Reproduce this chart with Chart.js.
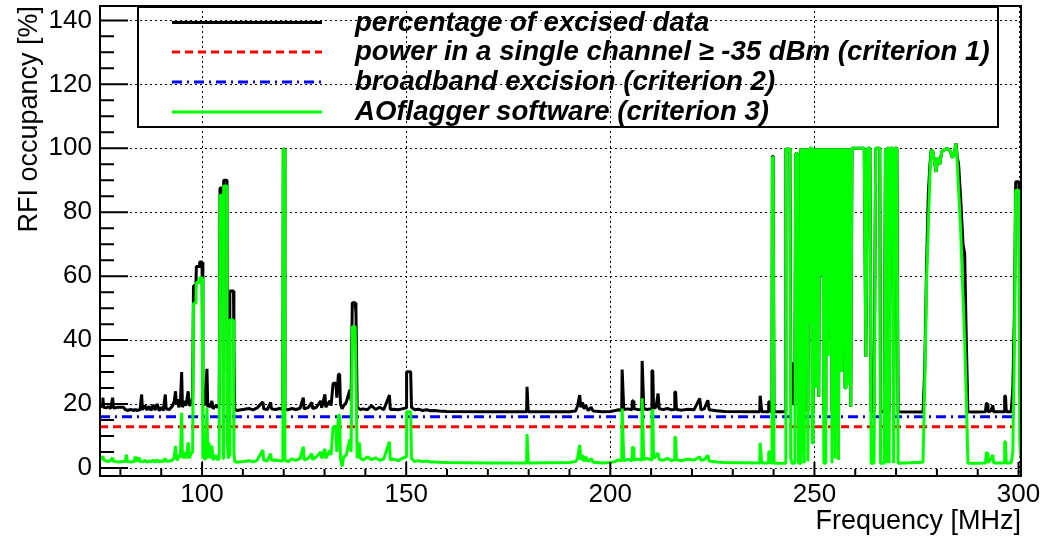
<!DOCTYPE html>
<html>
<head>
<meta charset="utf-8">
<script src="https://cdn.jsdelivr.net/npm/chart.js@4.4.1/dist/chart.umd.min.js"></script>
<style>
  html, body { margin: 0; padding: 0; background: #fff; overflow: hidden; }
  canvas { display: block; }
</style>
</head>
<body>
<canvas id="c" width="1041" height="540"></canvas>
<script>
// ---------------- data ----------------
const freq = [
  75.0, 75.5, 75.7, 75.9, 76.5, 77.0, 77.6, 78.1, 78.3, 79.5,
  80.8, 81.2, 81.5, 81.7, 82.5, 83.4, 83.6, 83.8, 84.6, 84.8,
  85.2, 85.4, 86.0, 86.5, 87.0, 87.5, 88.0, 88.5, 89.0, 89.5, 90.0, 90.5, 91.0, 91.2, 92.0,
  92.8, 93.2, 93.5, 93.7, 94.0, 94.3, 94.7, 95.0, 95.2, 95.6,
  96.0, 96.3, 96.6, 96.9, 97.3, 97.7, 97.9, 98.5, 98.6, 99.3,
  99.4, 100.0, 100.2, 100.5, 100.8, 101.2, 101.4, 101.7, 102.0, 102.4,
  102.7, 103.3, 103.8, 104.2, 104.4, 105.1, 105.2, 105.3, 106.1, 106.2,
  106.4, 106.7, 106.8, 107.7, 107.8, 108.0, 108.5, 110.0, 111.5, 112.5,
  113.5, 114.9, 115.1, 116.0, 116.8, 117.0, 118.0, 119.0, 119.8, 119.9,
  120.2, 120.3, 121.0, 122.0, 123.0, 124.0, 124.8, 125.0, 126.0, 126.9,
  127.1, 128.0, 129.1, 129.3, 130.1, 130.3, 131.3, 131.6, 132.1, 132.8,
  133.0, 133.4, 133.7, 133.9, 134.3, 134.7, 135.3, 136.2, 136.5, 136.8,
  137.5, 137.7, 138.0, 138.5, 138.8, 139.5, 140.5, 141.5, 142.5, 143.5,
  144.5, 145.9, 146.1, 147.0, 148.0, 149.0, 150.0, 150.1, 151.1, 151.3,
  152.1, 153.0, 154.0, 155.0, 156.0, 157.0, 158.0, 160.0, 170.0, 179.5,
  179.6, 179.8, 179.9, 190.0, 191.5, 192.0, 192.5, 192.8, 193.2, 193.6,
  194.0, 194.6, 195.3, 195.8, 198.0, 200.0, 201.0, 202.0, 202.8, 202.9,
  203.1, 203.3, 204.3, 205.3, 205.4, 205.6, 205.8, 206.8, 207.7, 207.8,
  208.0, 208.2, 209.0, 210.1, 210.2, 210.4, 210.6, 211.2, 211.7, 212.0,
  213.0, 214.0, 215.0, 215.7, 215.8, 216.0, 216.2, 217.5, 219.0, 220.5,
  221.9, 222.2, 223.0, 223.9, 224.2, 226.0, 228.0, 236.6, 236.7, 236.9,
  237.1, 238.7, 238.8, 239.0, 239.3, 239.6, 239.7, 239.9, 240.1, 242.8,
  243.0, 243.6, 244.0, 244.2, 244.5, 244.8, 245.2, 245.4, 245.9, 246.1,
  246.5, 246.7, 247.0, 247.2, 247.5, 247.8, 248.0, 248.2, 248.4, 248.6,
  248.8, 249.0, 249.3, 249.5, 249.7, 249.9, 250.1, 250.3, 250.5, 250.7,
  250.9, 251.0, 251.1, 251.3, 251.5, 251.7, 251.9, 252.1, 252.3, 252.6,
  252.8, 253.0, 253.2, 253.4, 253.6, 253.8, 254.0, 254.3, 254.5, 254.7,
  254.9, 255.1, 255.3, 255.5, 255.7, 255.9, 256.1, 256.3, 256.5, 256.7,
  256.9, 257.1, 257.3, 257.5, 257.7, 257.9, 258.1, 258.3, 258.5, 258.7,
  258.9, 259.2, 262.2, 262.6, 263.0, 263.6, 263.9, 264.6, 265.0, 266.0,
  266.2, 267.1, 267.4, 267.7, 267.9, 268.1, 268.3, 268.6, 269.2, 269.4,
  269.7, 270.2, 270.5,
  276.6, 277.0, 277.5, 277.9, 278.3, 278.6, 279.0, 279.4, 279.8, 280.2,
  280.7, 281.2, 281.8, 282.5, 283.3, 283.8, 284.3, 284.7, 285.0, 285.3,
  285.8, 286.4, 286.8, 287.2, 287.6, 289.0, 291.9, 292.1, 292.3, 292.5,
  293.2, 293.7, 293.9, 295.5, 296.5, 296.6, 296.8, 297.0, 298.2, 298.6,
  299.0, 299.3, 300.1, 300.3, 300.6
];
const excised = [
  19.0, 19.5, 22.0, 19.0, 18.8, 19.2, 18.6, 22.0, 18.8, 19.0,
  19.0, 18.2, 18.2, 18.0, 18.3, 18.0, 18.4, 18.0, 18.2, 18.0,
  23.0, 18.2, 19.6, 18.1, 19.3, 18.0, 19.8, 18.1, 20.0, 17.9, 19.0, 18.0, 23.0, 18.5, 18.3,
  19.5, 21.0, 24.0, 20.0, 21.5, 19.0, 20.5, 30.0, 19.0, 21.0,
  19.5, 21.5, 24.0, 19.5, 20.0, 22.0, 57.0, 57.0, 63.0, 63.0,
  64.4, 64.4, 20.0, 19.5, 21.0, 31.0, 19.0, 20.0, 19.0, 21.0,
  18.5, 19.5, 19.0, 20.0, 87.6, 87.6, 20.0, 90.0, 90.0, 30.6,
  19.0, 20.0, 55.4, 55.4, 39.0, 18.5, 18.0, 18.3, 18.6, 18.2,
  18.8, 20.7, 18.5, 18.3, 20.5, 18.5, 18.3, 18.6, 18.4, 99.8,
  99.8, 18.5, 18.2, 18.6, 18.3, 18.7, 22.0, 18.5, 18.9, 20.5,
  18.6, 19.0, 21.0, 18.8, 23.0, 19.0, 21.0, 19.5, 26.5, 26.5,
  22.0, 29.3, 29.3, 20.0, 18.5, 19.5, 20.5, 24.4, 21.0, 51.7,
  51.7, 48.4, 19.0, 18.5, 18.3, 18.5, 18.2, 19.5, 18.3, 19.0,
  18.2, 22.8, 18.3, 18.4, 18.2, 18.5, 18.8, 30.1, 30.1, 19.0,
  18.2, 18.4, 18.0, 18.2, 17.9, 18.0, 17.8, 17.7, 17.6, 17.6,
  25.4, 25.4, 17.6, 17.6, 17.8, 19.5, 22.8, 19.0, 20.5, 18.5,
  19.5, 18.0, 19.0, 17.8, 17.6, 17.7, 17.9, 18.2, 18.0, 30.8,
  30.8, 18.3, 18.5, 18.2, 21.0, 21.0, 18.5, 18.3, 18.2, 33.5,
  33.5, 18.6, 18.3, 18.5, 30.4, 30.4, 18.6, 19.0, 23.3, 18.5,
  18.3, 18.6, 18.2, 18.3, 23.8, 23.8, 18.3, 18.1, 18.4, 18.2,
  21.8, 18.2, 18.5, 21.2, 18.2, 17.9, 17.7, 17.6, 22.6, 22.6,
  17.6, 17.6, 20.7, 20.7, 17.6, 17.6, 97.5, 97.5, 17.6, 17.6,
  100, 99, 100, 32.8, 32.8, 20, 20, 98.3, 98.3, 17.6,
  17.6, 100, 30, 100, 17.6, 100, 60, 100, 17.6, 100,
  45, 100, 100, 17.6, 17.6, 100, 70, 100, 30, 100,
  80, 100, 22.3, 100, 60, 100, 85, 100, 17.6, 17.6,
  100, 50, 100, 40, 100, 90, 100, 17.6, 100, 75,
  100, 17.6, 100, 55, 100, 17.6, 100, 65, 100, 30,
  100, 80, 100, 25, 100, 50, 100, 26, 100, 70,
  19.2, 100, 100, 34.8, 100, 100, 17.6, 17.6, 100, 100,
  17.6, 17.6, 100, 17.6, 100, 100, 17.6, 100, 100, 17.6,
  100, 100, 17.6,
  17.5, 30, 65, 85.8, 95, 99.5, 99, 96, 92.6, 97,
  95, 99, 99.5, 100, 99, 97, 99, 101.5, 97, 95.2,
  85, 70, 67, 40, 17.6, 17.5, 17.6, 20.2, 20.2, 17.6,
  17.8, 19.6, 17.6, 17.6, 17.6, 22.5, 22.5, 17.6, 17.6, 25,
  48.9, 89.5, 89.5, 22.8, 22.8
];
const aoflagger = [
  3.5, 3.0, 3.8, 2.5, 2.2, 2.0, 2.4, 3.2, 2.1, 1.9,
  2.0, 2.1, 4.2, 2.0, 1.9, 2.0, 3.6, 2.0, 3.2, 1.9,
  2.2, 1.9, 2.4, 1.8, 2.2, 1.9, 2.5, 1.8, 2.6, 1.9, 2.2, 2.0, 3.0, 2.1, 2.2,
  2.5, 3.5, 6.9, 3.0, 2.5, 4.0, 3.5, 17.3, 3.0, 5.0,
  3.0, 4.5, 8.0, 3.0, 4.5, 5.0, 51.5, 51.5, 58.0, 58.0,
  59.5, 59.5, 3.0, 4.0, 2.5, 18.8, 3.0, 8.0, 3.0, 7.0,
  2.5, 4.0, 2.5, 3.0, 85.3, 85.3, 3.0, 88.2, 88.2, 8.0,
  3.0, 4.0, 46.3, 46.3, 5.0, 2.0, 1.8, 2.0, 2.3, 1.9,
  2.4, 5.6, 2.5, 2.2, 4.5, 2.4, 2.5, 2.3, 2.2, 99.8,
  99.8, 2.5, 2.0, 2.8, 2.4, 3.0, 6.7, 2.5, 3.0, 4.5,
  2.6, 3.5, 5.0, 3.0, 6.0, 3.0, 5.5, 4.0, 12.9, 12.9,
  5.0, 16.5, 16.5, 3.0, 0.5, 3.5, 4.0, 9.0, 5.0, 44.2,
  44.2, 44.2, 3.0, 8.0, 3.0, 2.5, 3.5, 2.6, 3.2, 2.4,
  2.8, 8.2, 2.5, 2.8, 2.3, 3.0, 3.5, 17.6, 17.6, 3.0,
  2.0, 2.3, 2.0, 2.2, 1.9, 1.9, 1.8, 1.7, 1.6, 1.6,
  10.6, 10.6, 1.6, 1.7, 2.0, 3.0, 7.2, 2.5, 4.0, 2.0,
  3.5, 2.0, 3.0, 1.8, 1.6, 1.7, 2.0, 2.5, 2.3, 18.6,
  18.6, 2.3, 2.7, 2.2, 6.5, 6.5, 2.5, 2.8, 2.4, 21.8,
  21.8, 2.6, 3.0, 2.5, 18.1, 18.1, 3.0, 3.8, 4.7, 2.6,
  2.4, 3.0, 2.3, 2.6, 9.6, 9.6, 2.5, 2.3, 2.8, 2.4,
  3.5, 2.4, 2.6, 4.0, 2.2, 1.9, 1.7, 1.6, 7.9, 7.9,
  1.6, 1.6, 5.1, 5.1, 1.6, 1.6, 97.2, 97.2, 1.5, 1.5,
  100, 99, 100, 3, 1.5, 1.5, 1.5, 98.3, 98.3, 1.5,
  1.5, 100, 5, 100, 1.5, 100, 60, 100, 2, 100,
  45, 100, 100, 7.8, 7.8, 100, 70, 100, 25, 100,
  80, 100, 22.3, 100, 60, 100, 85, 100, 1.5, 1.5,
  100, 50, 100, 35, 100, 90, 100, 1.5, 100, 75,
  100, 3, 100, 55, 100, 2.5, 100, 65, 100, 30,
  100, 80, 100, 25, 100, 50, 100, 26, 100, 70,
  19.2, 100, 100, 34.8, 100, 100, 1.5, 1.5, 100, 100,
  1.5, 1.5, 100, 1.5, 100, 100, 1.5, 100, 100, 1.5,
  100, 100, 1.5,
  1.8, 25, 60, 76, 92, 99.5, 99, 96, 92.6, 97,
  95, 99, 99.5, 100, 99, 97, 99, 101.5, 95, 87.5,
  75, 53.5, 40, 22, 1.5, 1.5, 1.6, 4.8, 4.8, 1.6,
  2.8, 4.1, 1.6, 1.6, 1.6, 8.2, 8.2, 1.6, 1.6, 5,
  39, 86.9, 86.9, 8.8, 3.0
];
// constant criterion thresholds (flat lines)
const critFreq = [75.0, 298.5];
const crit1 = [12.9, 12.9];
const crit2 = [16.0, 16.0];

const seriesLabels = [
  'percentage of excised data',
  'power in a single channel \u2265 -35 dBm (criterion 1)',
  'broadband excision (criterion 2)',
  'AOflagger software (criterion 3)'
];
const xTicks = [100, 150, 200, 250, 300];
const yTicks = [0, 20, 40, 60, 80, 100, 120, 140];
const xTitle = 'Frequency [MHz]';
const yTitle = 'RFI occupancy [%]';

// ---------------- chart ----------------
Chart.defaults.font.family = "'Liberation Sans', Arial, Helvetica, sans-serif";
Chart.defaults.color = '#000';

const toXY = (xs, ys) => xs.map((f, i) => ({ x: f, y: ys[i] }));

const styles = [
  { color: '#000000', dash: [], width: 3 },
  { color: '#ff0000', dash: [8, 5], width: 3 },
  { color: '#0000ff', dash: [10, 5, 2, 5], width: 3 },
  { color: '#00ff00', dash: [], width: 3 }
];

const rootPlugin = {
  id: 'rootFrame',
  beforeDatasetsDraw(chart) {
    const { ctx, chartArea: a, scales: { x, y } } = chart;
    ctx.save();
    ctx.strokeStyle = '#000';
    ctx.lineWidth = 1;
    ctx.setLineDash([2, 3]);
    ctx.beginPath();
    for (const v of xTicks) {
      const px = Math.round(x.getPixelForValue(v)) + 0.5;
      ctx.moveTo(px, a.top);
      ctx.lineTo(px, a.bottom);
    }
    for (const v of yTicks) {
      const py = Math.round(y.getPixelForValue(v)) + 0.5;
      ctx.moveTo(a.left, py);
      ctx.lineTo(a.right, py);
    }
    ctx.stroke();
    ctx.restore();
  },
  afterDraw(chart) {
    const { ctx, chartArea: a, scales: { x, y } } = chart;
    ctx.save();
    ctx.strokeStyle = '#000';
    ctx.setLineDash([]);
    // inward ticks
    ctx.lineWidth = 2;
    ctx.beginPath();
    for (let v = 80; v <= 300; v += 10) {
      const px = x.getPixelForValue(v);
      const len = xTicks.includes(v) ? 14 : 7;
      ctx.moveTo(px, a.bottom);
      ctx.lineTo(px, a.bottom - len);
    }
    for (let v = 0; v <= 140; v += 5) {
      const py = y.getPixelForValue(v);
      const len = yTicks.includes(v) ? 28 : 14;
      ctx.moveTo(a.left, py);
      ctx.lineTo(a.left + len, py);
    }
    ctx.stroke();
    // frame
    ctx.lineWidth = 2;
    ctx.strokeRect(a.left, a.top, a.right - a.left, a.bottom - a.top);

    // legend box
    const lx = 138, ly = 7, lw = 860, lh = 120;
    ctx.strokeRect(lx, ly, lw, lh);
    const rowY = [22.5, 52, 82, 112];
    ctx.font = "bold italic 27.6px 'Liberation Sans', Arial, sans-serif";
    ctx.fillStyle = '#000';
    ctx.textBaseline = 'middle';
    ctx.textAlign = 'left';
    for (let i = 0; i < seriesLabels.length; i++) {
      const s = styles[i];
      ctx.strokeStyle = s.color;
      ctx.lineWidth = s.width;
      ctx.setLineDash(s.dash);
      ctx.beginPath();
      ctx.moveTo(172, rowY[i]);
      ctx.lineTo(322, rowY[i]);
      ctx.stroke();
      ctx.setLineDash([]);
      ctx.fillText(seriesLabels[i], 355, rowY[i] + 0.5);
    }
    ctx.restore();
  }
};

new Chart(document.getElementById('c'), {
  type: 'line',
  data: {
    datasets: [
      { label: seriesLabels[0], data: toXY(freq, excised), borderColor: styles[0].color, borderWidth: 3, order: 4 },
      { label: seriesLabels[1], data: toXY(critFreq, crit1), borderColor: styles[1].color, borderDash: styles[1].dash, borderWidth: 3, order: 3 },
      { label: seriesLabels[2], data: toXY(critFreq, crit2), borderColor: styles[2].color, borderDash: styles[2].dash, borderWidth: 3, order: 2 },
      { label: seriesLabels[3], data: toXY(freq, aoflagger), borderColor: styles[3].color, borderWidth: 3, order: 1 }
    ]
  },
  options: {
    responsive: false,
    animation: false,
    elements: {
      point: { radius: 0, hoverRadius: 0 },
      line: { tension: 0, fill: false, borderJoinStyle: 'bevel' }
    },
    plugins: { legend: { display: false }, tooltip: { enabled: false } },
    layout: { padding: { top: 6, right: 20, left: 0, bottom: 0 } },
    scales: {
      x: {
        type: 'linear',
        min: 75,
        max: 300.6,
        afterBuildTicks: (s) => { s.ticks = xTicks.map(v => ({ value: v })); },
        afterFit: (s) => { s.height = 64; s.paddingLeft = 0; s.paddingRight = 0; },
        ticks: {
          autoSkip: false, maxRotation: 0, padding: 3,
          font: { size: 26 }, color: '#000',
          callback: (v) => String(v)
        },
        grid: { display: false, drawTicks: false },
        border: { display: false },
        title: {
          display: true, text: xTitle, align: 'end',
          font: { size: 27 }, color: '#000',
          padding: { top: 0, bottom: 2 }
        }
      },
      y: {
        type: 'linear',
        min: -2.5,
        max: 144.5,
        afterBuildTicks: (s) => { s.ticks = yTicks.map(v => ({ value: v })); },
        afterFit: (s) => { s.width = 100; s.paddingTop = 0; s.paddingBottom = 0; },
        ticks: {
          autoSkip: false, padding: 8,
          font: { size: 26 }, color: '#000',
          callback: (v) => String(v)
        },
        grid: { display: false, drawTicks: false },
        border: { display: false },
        title: {
          display: true, text: yTitle, align: 'end',
          font: { size: 27 }, color: '#000',
          padding: { top: 13, bottom: 0 }
        }
      }
    }
  },
  plugins: [rootPlugin]
});
</script>
</body>
</html>
